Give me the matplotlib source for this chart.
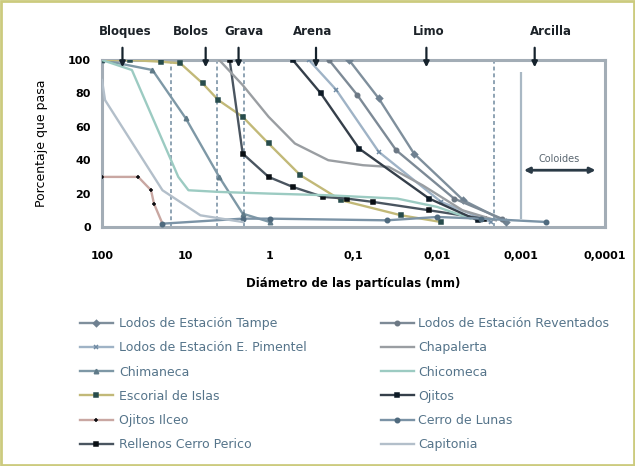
import matplotlib
matplotlib.use('Agg')
import matplotlib.pyplot as plt
from matplotlib.patches import Rectangle
from matplotlib.ticker import NullLocator

# ---------------- data ----------------
series_names = [
    "Lodos de Estación Tampe",
    "Lodos de Estación E. Pimentel",
    "Chimaneca",
    "Escorial de Islas",
    "Ojitos Ilceo",
    "Rellenos Cerro Perico",
    "Lodos de Estación Reventados",
    "Chapalerta",
    "Chicomeca",
    "Ojitos",
    "Cerro de Lunas",
    "Capitonia",
]

# diameters (mm) and percent passing for each series
d_tampe = [0.113, 0.05, 0.019, 0.0049, 0.0015]
p_tampe = [100, 77, 44, 16, 3]
d_pimentel = [0.34, 0.16, 0.05, 0.009, 0.0023]
p_pimentel = [100, 82, 45, 15, 3]
d_chimaneca = [100, 25, 10, 4, 2.1, 1]
p_chimaneca = [100, 94, 65, 30, 8, 3]
d_escorial = [100, 46, 20, 11.6, 6.3, 4.1, 2.1, 1.03, 0.43, 0.14, 0.027, 0.009]
p_escorial = [100, 100, 99, 98, 86, 76, 66, 50, 31, 16, 7, 3]
d_ojitos_ilceo = [100, 37, 26, 24, 19]
p_ojitos_ilceo = [30, 30, 22, 14, 2]
d_rellenos = [3.0, 2.1, 1.03, 0.53, 0.23, 0.12, 0.058, 0.0125, 0.0028]
p_rellenos = [100, 44, 30, 24, 18, 17, 15, 10, 5]
d_reventados = [0.196, 0.09, 0.031, 0.0063, 0.0017]
p_reventados = [100, 79, 46, 17, 5]
d_chapalerta = [4, 2.1, 1.03, 0.5, 0.2, 0.077, 0.038, 0.015, 0.005, 0.002]
p_chapalerta = [100, 85, 66, 50, 40, 37, 36, 25, 10, 4]
d_chicomeca = [100, 44, 12.3, 9.3, 4, 1, 0.2, 0.03, 0.01, 0.004]
p_chicomeca = [100, 94, 30, 22, 21, 20, 19, 17, 12, 5]
d_ojitos = [0.53, 0.245, 0.086, 0.0125, 0.0033]
p_ojitos = [100, 80, 47, 17, 4]
d_lunas = [19, 2.1, 1.0, 0.04, 0.01, 0.003, 0.0005]
p_lunas = [2, 5, 5, 4, 6, 5, 3]
d_capitonia = [100, 92, 19, 6.7, 2.1]
p_capitonia = [88, 76, 22, 7, 3]

series_d = [d_tampe, d_pimentel, d_chimaneca, d_escorial, d_ojitos_ilceo, d_rellenos,
            d_reventados, d_chapalerta, d_chicomeca, d_ojitos, d_lunas, d_capitonia]
series_p = [p_tampe, p_pimentel, p_chimaneca, p_escorial, p_ojitos_ilceo, p_rellenos,
            p_reventados, p_chapalerta, p_chicomeca, p_ojitos, p_lunas, p_capitonia]

x_ticks = [100, 10, 1, 0.1, 0.01, 0.001, 0.0001]
x_tick_labels = ["100", "10", "1", "0,1", "0,01", "0,001", "0,0001"]
y_ticks = [0, 20, 40, 60, 80, 100]

class_names = ["Bloques", "Bolos", "Grava", "Arena", "Limo", "Arcilla"]
class_text_pos = [53, 8.6, 2.05, 0.31, 0.0128, 0.00044]
class_arrow_pos = [57, 5.8, 2.35, 0.28, 0.0135, 0.00069]
boundaries_dashed = [15, 4.2, 2.0, 0.0021]
boundary_coloid = 0.001

# ---------------- styles ----------------
line_colors = ['#7f8f9c', '#9fb3c6', '#7e98a6', '#c2b978', '#c9a7a2', '#4a5560',
               '#7d8a96', '#9a9ea2', '#9ccbc2', '#353f4a', '#7b93a6', '#b3bfca']
marker_styles = ['D', 'x', '^', 's', '+', 's', 'o', '', '', 's', 'o', '']
marker_colors = ['#6f8191', '#6f8aa3', '#5f7a88', '#274c4c', '#0c0c10', '#0a0f14',
                 '#6c7884', '#8a8e92', '#8cbab2', '#0d1a26', '#4f6a7e', '#a0adb8']

fig = plt.figure(figsize=(6.35, 4.66), dpi=100)
ax = fig.add_axes([102 / 635, 1 - 227 / 466, 503 / 635, 167 / 466])

handles = []
for name, d, p, c, m, mc in zip(series_names, series_d, series_p,
                                line_colors, marker_styles, marker_colors):
    h, = ax.plot(d, p, color=c, lw=1.7, marker=m if m else None, ms=3.2,
                 mfc=mc, mec=mc, mew=1.1, label=name, zorder=3)
    handles.append(h)

ax.set_xscale('log')
ax.set_xlim(100, 0.0001)
ax.set_ylim(0, 100)
ax.set_xticks(x_ticks)
ax.set_xticklabels(x_tick_labels, fontweight='bold', fontsize=8)
ax.xaxis.set_minor_locator(NullLocator())
ax.set_yticks(y_ticks)
ax.set_yticklabels([str(v) for v in y_ticks], fontweight='bold', fontsize=8)
ax.tick_params(axis='x', length=0, pad=17)
ax.tick_params(axis='y', length=0, pad=8)
for s in ax.spines.values():
    s.set_color('#a3adb6')
    s.set_linewidth(2.2)

ax.set_xlabel("Diámetro de las partículas (mm)", fontweight='bold', fontsize=8.5, labelpad=12)
ax.set_ylabel("Porcentaje que pasa", fontsize=9, labelpad=14)

# boundaries
for b in boundaries_dashed:
    ax.axvline(b, color='#8ea3b3', lw=1.4, ls=(0, (2, 1.5)), zorder=2)
ax.vlines(boundary_coloid, 5, 93, color='#a9b8c4', lw=1.6, zorder=2)

# class labels with arrows
tr = ax.get_xaxis_transform()
for name, tx, axp in zip(class_names, class_text_pos, class_arrow_pos):
    ax.text(tx, 1.168, name, transform=tr, ha='center', va='center',
            fontweight='bold', fontsize=8.5, color='#1c2228')
    ax.annotate('', xy=(axp, 0.94), xytext=(axp, 1.09), xycoords=tr, textcoords=tr,
                arrowprops=dict(arrowstyle='-|>', color='#15222c', lw=1.6,
                                mutation_scale=8), annotation_clip=False)

# coloides
ax.annotate('', xy=(0.00012, 34), xytext=(0.001, 34),
            arrowprops=dict(arrowstyle='<|-|>', color='#2a3a46', lw=2,
                            mutation_scale=8))
ax.text(0.00035, 40.5, "Coloides", ha='center', va='center', fontsize=7, color='#5a6670')

# legends
fig.legend(handles[:6], series_names[:6], loc='upper left',
           bbox_to_anchor=(75 / 635, 1 - 312 / 466), frameon=False, fontsize=9,
           labelspacing=0.9, handlelength=2.6, handletextpad=0.5,
           labelcolor='#55748a', borderaxespad=0)
fig.legend(handles[6:], series_names[6:], loc='upper left',
           bbox_to_anchor=(376 / 635, 1 - 312 / 466), frameon=False, fontsize=9,
           labelspacing=0.9, handlelength=2.6, handletextpad=0.4,
           labelcolor='#55748a', borderaxespad=0)

fig.patches.append(Rectangle((0.002, 0.002), 0.996, 0.996, transform=fig.transFigure,
                             fill=False, ec='#cccb7e', lw=2))

fig.savefig('out.png', dpi=100)
